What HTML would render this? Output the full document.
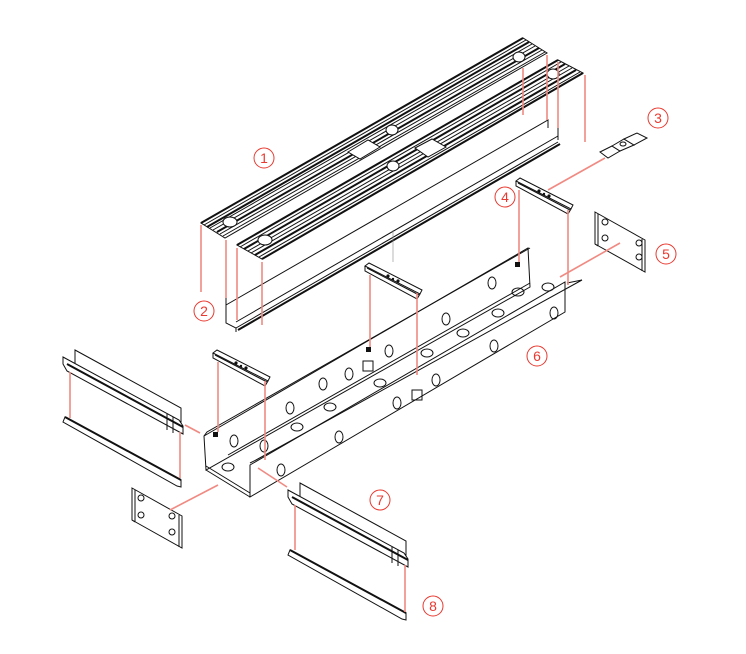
<!DOCTYPE html>
<html><head><style>
html,body{margin:0;padding:0;background:#fff;}
svg{display:block;}
.k{stroke:#111;fill:none;stroke-width:1;}
.kt{stroke:#111;fill:none;stroke-width:2;}
.r{stroke:#f08a82;stroke-width:1.6;fill:none;}
.c{stroke:#e83a30;fill:none;stroke-width:1;}
.t{fill:#e83a30;font-family:"Liberation Sans",sans-serif;font-size:14px;text-anchor:middle;}
.h{stroke:#111;fill:#fff;stroke-width:1;}
</style></head><body>
<svg width="746" height="654" viewBox="0 0 746 654" xmlns="http://www.w3.org/2000/svg">
<defs>
<g id="br">
<polygon class="h" points="0,3 4,0 57,27 55,31"/>
<polyline class="k" points="0,3 0,8 52,36 55,31"/>
<line class="k" x1="2" y1="5" x2="54" y2="32"/>
<circle cx="23" cy="13" r="1.6" fill="#111"/><circle cx="28" cy="16" r="1.2" fill="#111"/><circle cx="33" cy="18" r="1.6" fill="#111"/>
</g>
<g id="plate">
<polygon class="h" points="0,0 50,28 50,60 0,32"/>
<line class="k" x1="3" y1="2" x2="3" y2="34"/>
<line class="k" x1="47" y1="27" x2="47" y2="59"/>
<line class="k" x1="0" y1="32" x2="3" y2="34"/>
</g>
<g id="rail7">
<polygon class="h" points="12,0 118,58 118,72 12,14"/>
<polygon class="h" points="0,7 116,70 120,76 120,84 4,21 0,14"/>
<line class="kt" x1="4" y1="14" x2="120" y2="77"/>
<line class="k" x1="104" y1="64" x2="104" y2="80"/>
<line class="k" x1="110" y1="67" x2="110" y2="83"/>
<polygon class="h" points="2,67 118,130 118,137 114,136 0,72"/>
<line class="kt" x1="2" y1="67" x2="118" y2="130"/>
</g>
</defs>

<!-- Rail A (back) -->
<polygon class="h" points="201,223 523,38 547,53 225,238"/>
<g class="k">
<line x1="204" y1="225" x2="526" y2="40"/><line x1="207" y1="227" x2="529" y2="42"/>
<line x1="210" y1="228" x2="532" y2="44"/><line x1="213" y1="230" x2="535" y2="46"/>
<line x1="217" y1="232" x2="539" y2="48"/><line x1="220" y1="234" x2="542" y2="50"/>
<line x1="223" y1="236" x2="545" y2="52"/>
</g>
<line class="kt" x1="201" y1="223" x2="523" y2="38"/>
<line class="kt" x1="207" y1="227" x2="529" y2="42"/>
<line class="kt" x1="217" y1="232" x2="539" y2="48"/>
<ellipse cx="230" cy="222" rx="7" ry="5" fill="#fff" stroke="#111"/>
<ellipse cx="392" cy="130" rx="6" ry="5" fill="#fff" stroke="#111"/>
<ellipse cx="519" cy="57" rx="6" ry="5" fill="#fff" stroke="#111"/>
<polygon points="348,152 368,140 380,147 360,159" fill="#fff" stroke="#111"/>
<!-- Rail B -->
<polygon class="h" points="237,245 558,60 583,73 262,259"/>
<g class="k">
<line x1="240" y1="247" x2="561" y2="62"/><line x1="244" y1="249" x2="565" y2="64"/>
<line x1="248" y1="251" x2="569" y2="66"/><line x1="251" y1="253" x2="572" y2="68"/>
<line x1="255" y1="255" x2="576" y2="70"/><line x1="259" y1="257" x2="580" y2="72"/>
</g>
<line class="kt" x1="237" y1="245" x2="558" y2="60"/>
<line class="kt" x1="244" y1="249" x2="565" y2="64"/>
<line class="kt" x1="255" y1="255" x2="576" y2="70"/>
<ellipse cx="265" cy="240" rx="7" ry="5" fill="#fff" stroke="#111"/>
<ellipse cx="393" cy="166" rx="6" ry="5" fill="#fff" stroke="#111"/>
<ellipse cx="553" cy="74" rx="6" ry="5" fill="#fff" stroke="#111"/>
<polygon points="415,148 432,139 446,147 428,157" fill="#fff" stroke="#111"/>
<line class="kt" x1="262" y1="259" x2="583" y2="73"/>
<!-- Channel 2 -->
<polyline class="k" points="226,305 548,120 548,128"/>
<polyline class="k" points="226,298 226,323 236,328 236,332"/>
<line class="k" x1="236" y1="328" x2="558" y2="142"/>
<line class="kt" x1="238" y1="330" x2="560" y2="144"/>
<line class="k" x1="236" y1="322" x2="558" y2="136"/>
<polyline class="k" points="558,128 558,140"/>

<!-- Tray 6 -->
<polygon class="h" points="204,436 528,248 530,287 206,470"/>
<polyline class="k" points="204,436 207,432 530,248"/>
<polygon class="h" points="250,465 565,282 565,312 250,497"/>
<polyline class="k" points="250,463 256,460 582,280 567,283"/>
<polyline class="k" points="206,470 250,497"/>
<line class="k" x1="206" y1="466" x2="250" y2="493"/>
<line class="k" x1="228" y1="455" x2="530" y2="283"/>
<line class="k" x1="250" y1="497" x2="250" y2="465"/>
<g class="k">
<ellipse cx="234" cy="441" rx="4" ry="6"/><ellipse cx="264" cy="446" rx="4" ry="6"/>
<ellipse cx="290" cy="408" rx="4" ry="6"/><ellipse cx="323" cy="384" rx="4" ry="6"/>
<ellipse cx="349" cy="374" rx="4" ry="6"/><ellipse cx="389" cy="351" rx="4" ry="6"/>
<ellipse cx="446" cy="319" rx="4" ry="6"/><ellipse cx="492" cy="283" rx="4" ry="6"/>
<ellipse cx="281" cy="470" rx="4" ry="6"/><ellipse cx="339" cy="437" rx="4" ry="6"/>
<ellipse cx="397" cy="403" rx="4" ry="6"/><ellipse cx="436" cy="380" rx="4" ry="6"/>
<ellipse cx="494" cy="346" rx="4" ry="6"/><ellipse cx="554" cy="313" rx="4" ry="6"/>
<ellipse cx="228" cy="467" rx="6" ry="4"/><ellipse cx="297" cy="427" rx="6" ry="4"/>
<ellipse cx="330" cy="407" rx="6" ry="4"/><ellipse cx="380" cy="383" rx="6" ry="4"/>
<ellipse cx="427" cy="353" rx="6" ry="4"/><ellipse cx="463" cy="333" rx="6" ry="4"/>
<ellipse cx="498" cy="313" rx="6" ry="4"/><ellipse cx="518" cy="292" rx="6" ry="4"/>
<ellipse cx="548" cy="287" rx="6" ry="4"/>
<rect x="363" y="361" width="10" height="10"/><rect x="412" y="390" width="10" height="10"/>
</g>
<rect x="213" y="432" width="5" height="5" fill="#111"/><rect x="366" y="347" width="5" height="5" fill="#111"/>
<rect x="515" y="262" width="5" height="5" fill="#111"/>

<!-- brackets 4 -->
<use href="#br" x="516" y="178"/>
<use href="#br" x="365" y="263"/>
<use href="#br" x="213" y="350"/>
<!-- part 3 -->
<polygon class="h" points="600,152 612,146 620,151 608,158"/>
<polygon class="h" points="612,146 624,139 634,145 620,151"/>
<polygon class="h" points="624,139 637,133 647,138 634,145"/>
<ellipse cx="623" cy="144" rx="3" ry="2" class="k"/>
<!-- plates 5 -->
<use href="#plate" x="595" y="212"/>
<g class="k"><circle cx="605" cy="222" r="3"/><circle cx="605" cy="238" r="3"/><circle cx="639" cy="243" r="3"/><circle cx="639" cy="257" r="3"/></g>
<use href="#plate" x="132" y="488"/>
<g class="k"><circle cx="141" cy="498" r="3"/><circle cx="141" cy="515" r="3"/><circle cx="172" cy="516" r="3"/><circle cx="172" cy="532" r="3"/></g>
<!-- rails 7/8 -->
<use href="#rail7" x="63" y="350"/>
<use href="#rail7" x="288" y="483"/>

<!-- red leaders -->
<g class="r">
<line x1="201" y1="225" x2="201" y2="292"/><line x1="226" y1="240" x2="226" y2="298"/>
<line x1="237" y1="248" x2="237" y2="320"/><line x1="262" y1="262" x2="262" y2="325"/>
<line x1="523" y1="68" x2="523" y2="115"/><line x1="547" y1="55" x2="547" y2="120"/>
<line x1="558" y1="62" x2="558" y2="128"/><line x1="585" y1="75" x2="585" y2="142"/>
<line x1="548" y1="190" x2="605" y2="158"/>
<line x1="519" y1="190" x2="519" y2="262"/><line x1="568" y1="210" x2="568" y2="285"/>
<line x1="620" y1="243" x2="560" y2="277"/>
<line x1="370" y1="275" x2="370" y2="347"/><line x1="417" y1="293" x2="417" y2="375"/>
<line x1="218" y1="362" x2="218" y2="432"/><line x1="265" y1="381" x2="265" y2="460"/>
<line x1="185" y1="425" x2="200" y2="433"/><line x1="218" y1="485" x2="170" y2="510"/>
<line x1="258" y1="468" x2="287" y2="487"/>
<line x1="70" y1="372" x2="70" y2="418"/><line x1="180" y1="432" x2="180" y2="478"/>
<line x1="295" y1="505" x2="295" y2="550"/><line x1="405" y1="565" x2="405" y2="612"/>
</g>
<line x1="393" y1="230" x2="393" y2="262" stroke="#888" stroke-width="0.6"/>

<!-- labels -->
<g>
<circle class="c" cx="264" cy="158" r="10"/><text class="t" x="264" y="163">1</text>
<circle class="c" cx="204" cy="311" r="10"/><text class="t" x="204" y="316">2</text>
<circle class="c" cx="658" cy="118" r="10"/><text class="t" x="658" y="123">3</text>
<circle class="c" cx="505" cy="197" r="10"/><text class="t" x="505" y="202">4</text>
<circle class="c" cx="666" cy="254" r="10"/><text class="t" x="666" y="259">5</text>
<circle class="c" cx="537" cy="356" r="10"/><text class="t" x="537" y="361">6</text>
<circle class="c" cx="380" cy="500" r="10"/><text class="t" x="380" y="505">7</text>
<circle class="c" cx="433" cy="606" r="10"/><text class="t" x="433" y="611">8</text>
</g>
</svg>
</body></html>
